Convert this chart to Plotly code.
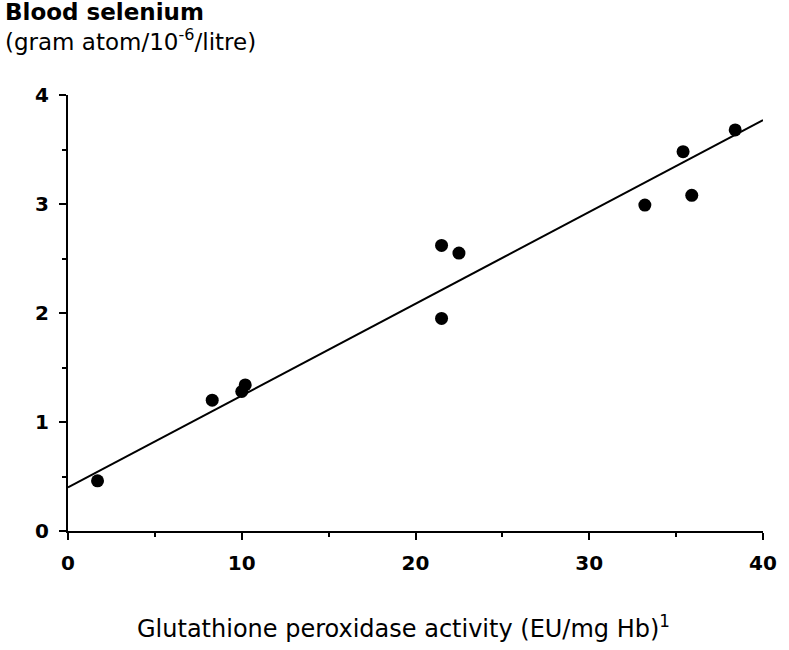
import plotly.graph_objects as go

# Glutathione peroxidase activity vs blood selenium
gpx_activity = [1.7, 8.3, 10.0, 10.2, 21.5, 22.5, 21.5, 33.2, 35.4, 35.9, 38.4]
blood_selenium = [0.46, 1.20, 1.28, 1.34, 2.62, 2.55, 1.95, 2.99, 3.48, 3.08, 3.68]

# Regression line end points
fit_x = [0, 40]
fit_y = [0.40, 3.77]

x_ticks = [0, 10, 20, 30, 40]
y_ticks = [0, 1, 2, 3, 4]

FONT = "DejaVu Sans, Arial, sans-serif"

fig = go.Figure()
fig.add_trace(go.Scatter(
    x=fit_x, y=fit_y, mode="lines",
    line=dict(color="black", width=2),
    hoverinfo="skip", showlegend=False,
))
fig.add_trace(go.Scatter(
    x=gpx_activity, y=blood_selenium, mode="markers",
    marker=dict(color="black", size=13, line=dict(width=0)),
    showlegend=False,
))

axis_common = dict(
    showgrid=False, zeroline=False,
    showline=True, linecolor="black", linewidth=2,
    ticks="outside", ticklen=7, tickwidth=2, tickcolor="black",
    tickfont=dict(family=FONT, size=20, color="black", weight="bold"),
)

fig.update_xaxes(
    range=[0, 40], tickvals=x_ticks, ticktext=[str(v) for v in x_ticks],
    minor=dict(dtick=5, ticks="outside", ticklen=4, tickwidth=2, tickcolor="black"),
    ticklabelstandoff=6,
    **axis_common,
)
fig.update_yaxes(
    range=[0, 4], tickvals=y_ticks, ticktext=[str(v) for v in y_ticks],
    minor=dict(dtick=0.5, ticks="outside", ticklen=4, tickwidth=2, tickcolor="black"),
    ticklabelstandoff=6,
    **axis_common,
)

# Y-axis caption above the plot, top-left
fig.add_annotation(
    x=-0.093, y=1.225, xref="paper", yref="paper", xanchor="left", yanchor="top",
    showarrow=False, align="left",
    text="<b>Blood selenium</b><br>(gram atom/10<sup>-6</sup>/litre)",
    font=dict(family=FONT, size=23, color="black"),
)
# X-axis caption below the tick labels
fig.add_annotation(
    x=0.483, y=-0.22, xref="paper", yref="paper", xanchor="center", yanchor="middle",
    showarrow=False,
    text="Glutathione peroxidase activity (EU/mg Hb)<sup>1</sup>",
    font=dict(family=FONT, size=24, color="black"),
)

fig.update_layout(
    width=789, height=650,
    margin=dict(l=68, r=24, t=95, b=119),
    paper_bgcolor="white", plot_bgcolor="white",
)

fig.write_html("out.html")
